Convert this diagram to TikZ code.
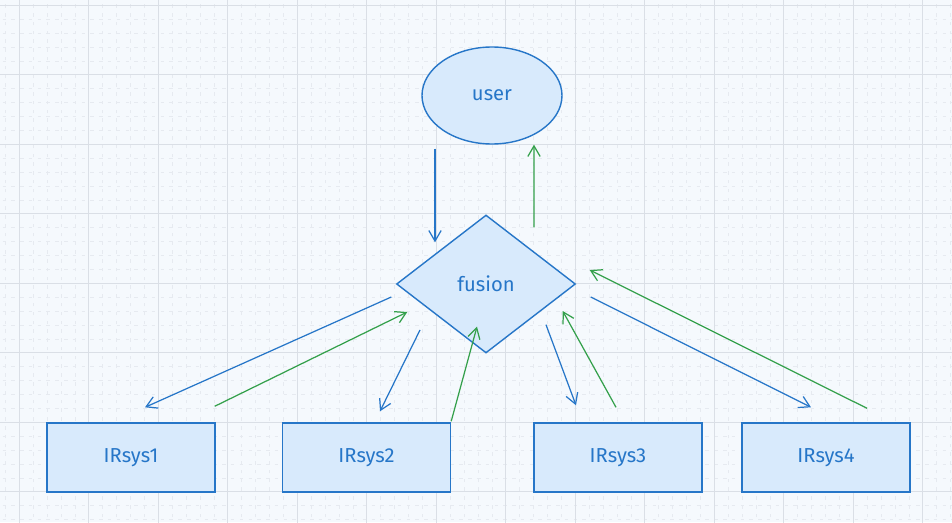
\documentclass[tikz,border=0pt]{standalone}
\usepackage{fontspec}
\setmainfont{Fira Sans}
\usepackage{tikz}
\usetikzlibrary{arrows.meta, shapes.geometric}
\definecolor{skyline}{RGB}{38,118,200}
\definecolor{skyfill}{RGB}{216,234,252}
\definecolor{leaf}{RGB}{52,160,75}
\definecolor{paper}{RGB}{245,249,253}
\definecolor{gridmajor}{RGB}{218,223,230}
\definecolor{gridminor}{RGB}{230,234,240}

\begin{document}
\begin{tikzpicture}[font=\fontsize{11.5}{14}\selectfont,
    skynode/.style={draw=skyline, fill=skyfill, text=skyline, line width=0.8pt},
    sysbox/.style={skynode, rectangle, minimum width=3.36cm, minimum height=1.38cm},
    down/.style={skyline, line width=0.7pt, -{Straight Barb[length=6pt, width=7pt]}},
    up/.style={leaf, line width=0.7pt, -{Straight Barb[length=6pt, width=7pt]}}]
  % paper and grid
  \useasboundingbox (0,0) rectangle (19.04,10.44);
  \fill[paper] (0,0) rectangle (19.04,10.44);
  \begin{scope}
    \clip (0,0) rectangle (19.04,10.44);
    \draw[gridminor, dash pattern=on 2pt off 3pt, line width=0.4pt,
          xshift=0.386cm, yshift=0.604cm]
      (-1.39,-1.39) grid[step=0.278] (19.46,11.12);
    \draw[gridmajor, line width=0.7pt, xshift=0.386cm, yshift=0.604cm]
      (-1.39,-1.39) grid[step=1.39] (19.46,11.12);
  \end{scope}
  % top: user and fusion
  \node[skynode, ellipse, minimum width=2.8cm, minimum height=1.94cm]
    (user) at (9.84,8.53) {user};
  \node[skynode, diamond, inner sep=0pt, minimum width=3.58cm,
        minimum height=2.76cm] (fusion) at (9.72,4.76) {fusion};
  % bottom: the four systems
  \foreach \x/\i in {2.62/1, 7.33/2, 12.36/3, 16.52/4} {
    \node[sysbox] (irsys\i) at (\x,1.29) {IRsys\i};
  }
  % query goes down
  \draw[down] ([shift={(-1.14,-0.08)}]user.south)
    -- ([shift={(-1.02,-0.56)}]fusion.north);
  \draw[down] ([shift={(-0.09,-0.26)}]fusion.west)
    -- ([shift={(0.28,0.30)}]irsys1.north);
  \draw[down] ([shift={(-1.32,-0.92)}]fusion.center)
    -- ([shift={(0.27,0.22)}]irsys2.north);
  \draw[down] ([shift={(1.20,0.58)}]fusion.south)
    -- ([shift={(-0.84,0.34)}]irsys3.north);
  \draw[down] ([shift={(0.29,-0.26)}]fusion.east)
    -- ([shift={(-0.30,0.30)}]irsys4.north);
  % results go up
  \draw[up] ([shift={(-0.02,0.32)}]irsys1.north east)
    -- ([shift={(0.23,-0.56)}]fusion.west);
  \draw[up] ([shift={(0,0.02)}]irsys2.north east)
    -- ([shift={(-0.18,0.54)}]fusion.south);
  \draw[up] ([shift={(-0.04,0.30)}]irsys3.north)
    -- ([shift={(-0.27,-0.54)}]fusion.east);
  \draw[up] ([shift={(0.82,0.28)}]irsys4.north)
    -- ([shift={(0.27,0.28)}]fusion.east);
  \draw[up] ([shift={(0.96,-0.26)}]fusion.north)
    -- ([shift={(0.84,0)}]user.south);
\end{tikzpicture}
\end{document}
